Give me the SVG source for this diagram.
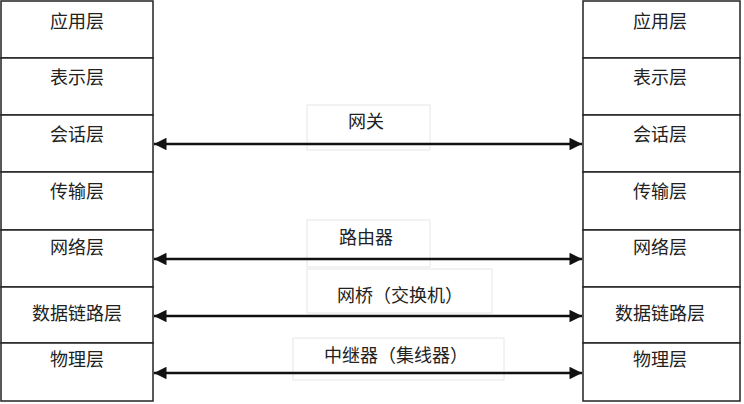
<svg xmlns="http://www.w3.org/2000/svg" width="744" height="404" viewBox="0 0 744 404">
<style>
.cell{fill:#fff;stroke:#222;stroke-width:1.5}
.lb{fill:#fff;stroke:#e6e6e6;stroke-width:1}
text{font-family:"Noto Sans CJK SC",sans-serif;font-size:18px;fill:#222;text-anchor:middle;dominant-baseline:central}
.ln{stroke:#111;stroke-width:2.5;marker-start:url(#a);marker-end:url(#a)}
</style>
<defs><marker id="a" viewBox="0 0 10 10" refX="10" refY="5" markerWidth="6" markerHeight="5" orient="auto-start-reverse" markerUnits="strokeWidth"><path d="M0,0L10,5L0,10z" fill="#111"/></marker></defs>
<rect width="744" height="404" fill="#fff"/>
<g id="left">
<rect class="cell" x="1" y="1" width="152" height="57"/><text x="77" y="20">应用层</text>
<rect class="cell" x="1" y="58" width="152" height="57"/><text x="77" y="76">表示层</text>
<rect class="cell" x="1" y="115" width="152" height="57"/><text x="77" y="133">会话层</text>
<rect class="cell" x="1" y="172" width="152" height="58"/><text x="77" y="190">传输层</text>
<rect class="cell" x="1" y="230" width="152" height="57"/><text x="77" y="246">网络层</text>
<rect class="cell" x="1" y="287" width="152" height="56"/><text x="77" y="312">数据链路层</text>
<rect class="cell" x="1" y="343" width="152" height="58"/><text x="77" y="358">物理层</text>
</g>
<g id="right">
<rect class="cell" x="583" y="1" width="157" height="57"/><text x="660" y="20">应用层</text>
<rect class="cell" x="583" y="58" width="157" height="57"/><text x="660" y="76">表示层</text>
<rect class="cell" x="583" y="115" width="157" height="57"/><text x="660" y="133">会话层</text>
<rect class="cell" x="583" y="172" width="157" height="58"/><text x="660" y="190">传输层</text>
<rect class="cell" x="583" y="230" width="157" height="57"/><text x="660" y="246">网络层</text>
<rect class="cell" x="583" y="287" width="157" height="56"/><text x="660" y="312">数据链路层</text>
<rect class="cell" x="583" y="343" width="157" height="58"/><text x="660" y="358">物理层</text>
</g>
<g id="labels">
<rect class="lb" x="307" y="105" width="123" height="45"/><text x="366" y="120">网关</text>
<rect class="lb" x="307" y="220" width="123" height="47"/><text x="366" y="236">路由器</text>
<rect class="lb" x="307" y="269" width="185" height="44"/><text x="400" y="294">网桥（交换机）</text>
<rect class="lb" x="293" y="338" width="211" height="42"/><text x="396" y="354">中继器（集线器）</text>
</g>
<g id="connectors">
<line class="ln" x1="154" y1="144" x2="582" y2="144"/>
<line class="ln" x1="154" y1="259" x2="582" y2="259"/>
<line class="ln" x1="154" y1="316" x2="582" y2="316"/>
<line class="ln" x1="154" y1="373" x2="582" y2="373"/>
</g>
</svg>
